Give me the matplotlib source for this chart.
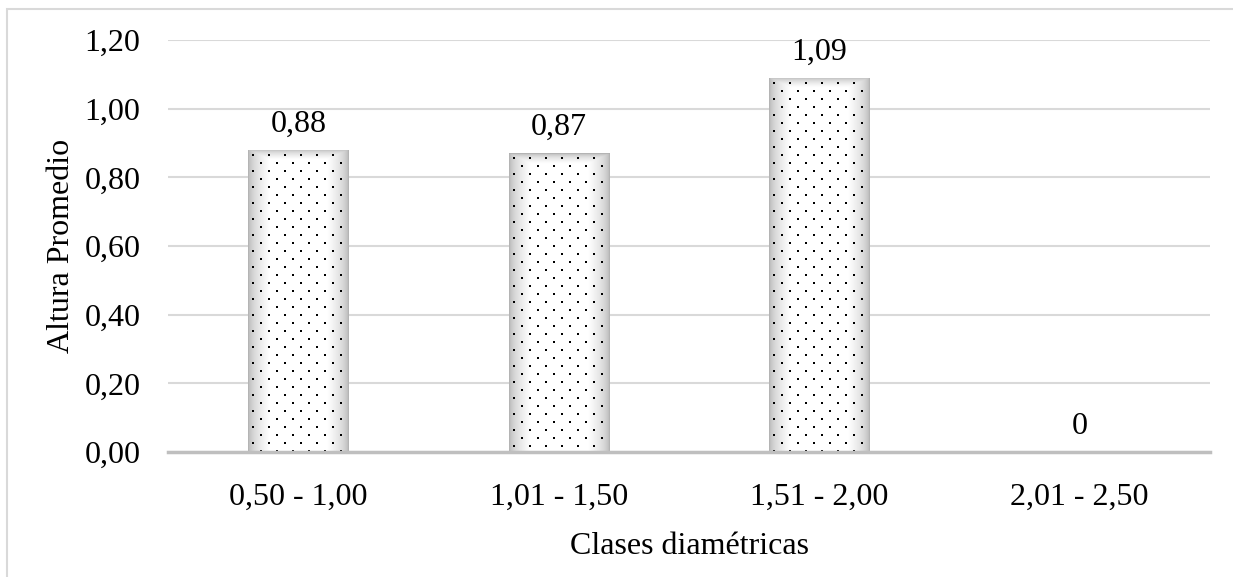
import numpy as np
import matplotlib.pyplot as plt
from matplotlib.patches import Rectangle

plt.rcParams.update({
    "font.family": ["Liberation Serif", "DejaVu Serif"],
    "font.size": 23,
})

# data
categories = ["0,50 - 1,00", "1,01 - 1,50", "1,51 - 2,00", "2,01 - 2,50"]
alturas = [0.88, 0.87, 1.09, 0.0]
etiquetas = ["0,88", "0,87", "1,09", "0"]
yticks = [0.0, 0.2, 0.4, 0.6, 0.8, 1.0, 1.2]

DPI = 100


def px_per_unit(ax):
    """Pixels per data unit along x and y."""
    fw, fh = ax.figure.get_size_inches() * DPI
    pos = ax.get_position()
    x0, x1 = ax.get_xlim()
    y0, y1 = ax.get_ylim()
    return pos.width * fw / (x1 - x0), pos.height * fh / (y1 - y0)


def shade_bar(ax, bar):
    """Gray-to-white gradient fill at the sides and top, plus a dot pattern."""
    x0, y0 = bar.get_x(), bar.get_y()
    w, h = bar.get_width(), bar.get_height()
    if h <= 0:
        return
    sx, sy = px_per_unit(ax)
    nx, ny = 200, 400
    u = np.linspace(0, 1, nx)
    side_px = np.minimum(u, 1 - u) * w * sx
    side = np.clip(side_px / 22.0, 0, 1)
    v = np.linspace(0, 1, ny)[:, None]
    top_px = v * h * sy  # row 0 is the top edge
    top = np.clip(top_px / 10.0, 0, 1)
    f = np.minimum(side[None, :], top)
    img = 0.68 + 0.32 * np.sqrt(f)
    im = ax.imshow(img, cmap="gray", vmin=0, vmax=1, aspect="auto",
                   extent=(x0, x0 + w, y0, y0 + h), origin="upper",
                   zorder=2, interpolation="bilinear")
    im.set_clip_path(bar)

    # staggered dot texture: 16 px apart in a row, rows 8 px apart
    dx, dy = 16 / sx, 8 / sy
    px, py = [], []
    row = 0
    yy = y0 + h - 5 / sy
    while yy > y0:
        xx = x0 + (5 if row % 2 == 0 else 13) / sx
        while xx < x0 + w:
            px.append(xx)
            py.append(yy)
            xx += dx
        yy -= dy
        row += 1
    ax.scatter(px, py, s=2.2, marker="s", color="black", linewidths=0,
               zorder=3, clip_path=bar)


fig = plt.figure(figsize=(12.33, 5.77), dpi=DPI)
ax = fig.add_axes([0.1363, 0.2166, 0.845, 0.7141])

x = np.arange(len(categories))
ax.set_xlim(-0.5, len(categories) - 0.5)
ax.set_ylim(0, 1.2)

bars = ax.bar(x, alturas, width=0.385, facecolor="none", edgecolor="none",
              zorder=3)
for b in bars:
    shade_bar(ax, b)

for xi, val, lab in zip(x, alturas, etiquetas):
    ax.annotate(lab, (xi, val), xytext=(0, 8), textcoords="offset points",
                ha="center", va="bottom", fontsize=23)

ax.set_yticks(yticks)
ax.set_yticklabels([f"{t:.2f}".replace(".", ",") for t in yticks])
ax.set_xticks(x)
ax.set_xticklabels(categories)
ax.tick_params(axis="x", length=0, pad=22)
ax.tick_params(axis="y", length=0, pad=20)

ax.grid(axis="y", color="#d9d9d9", linewidth=1.5, zorder=0)
ax.set_axisbelow(True)
for s in ["top", "right", "left"]:
    ax.spines[s].set_visible(False)
ax.spines["bottom"].set_color("#bfbfbf")
ax.spines["bottom"].set_linewidth(2.5)
ax.spines["bottom"].set_zorder(4)

ax.set_xlabel("Clases diamétricas", labelpad=15)
ax.set_ylabel("Altura Promedio", labelpad=6)

# outer chart border
fig.patches.append(Rectangle((7 / 1233, -0.02), 1.1, 1 - 9 / 577 + 0.02,
                             transform=fig.transFigure, fill=False,
                             edgecolor="#d9d9d9", linewidth=1.5))

fig.savefig("out.png", dpi=DPI)
